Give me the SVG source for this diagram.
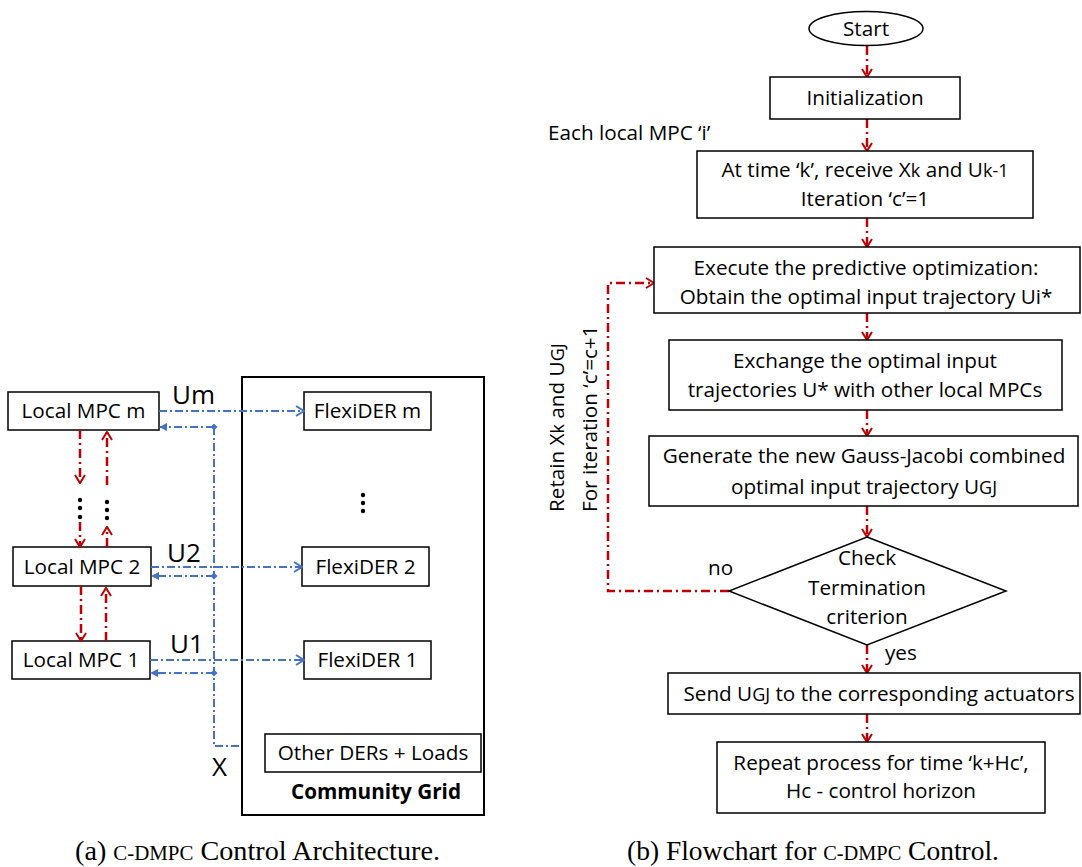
<svg xmlns="http://www.w3.org/2000/svg" width="1082" height="867" viewBox="0 0 1082 867">
<style>
text{font-family:"Open Sans","DejaVu Sans",sans-serif;font-size:20.7px;fill:#000}
.c{text-anchor:middle}
.box{fill:#fff;stroke:#000;stroke-width:1.5}
.red{fill:none;stroke:#C00000;stroke-width:2.5;stroke-dasharray:9 4 2 4}
.blue{fill:none;stroke:#4472C4;stroke-width:2;stroke-dasharray:8 3 2 3}
.big{font-size:26px}
.sub{font-size:18px}
.cap{font-family:"Liberation Serif",serif;font-size:27px}
.sc{font-size:20px}
</style>
<defs>
<marker id="ar" viewBox="0 0 10 12" refX="9" refY="6" markerWidth="10" markerHeight="12" markerUnits="userSpaceOnUse" orient="auto">
<path d="M1,1 L9,6 L1,11" fill="none" stroke="#C00000" stroke-width="2"/>
</marker>
<marker id="ab" viewBox="0 0 10 12" refX="9" refY="6" markerWidth="10" markerHeight="12" markerUnits="userSpaceOnUse" orient="auto">
<path d="M1,1 L9,6 L1,11" fill="none" stroke="#4472C4" stroke-width="2"/>
</marker>
<marker id="bf" viewBox="0 0 8 8" refX="7" refY="4" markerWidth="8" markerHeight="8" markerUnits="userSpaceOnUse" orient="auto">
<path d="M0,0 L8,4 L0,8 z" fill="#4472C4"/>
</marker>
<marker id="bd" viewBox="0 0 8 8" refX="4" refY="4" markerWidth="7" markerHeight="7" markerUnits="userSpaceOnUse" orient="auto">
<path d="M0,4 L4,0 L8,4 L4,8 z" fill="#4472C4"/>
</marker>
</defs>

<!-- Left: architecture -->
<g id="community-grid">
<rect x="242" y="377" width="242" height="438" fill="none" stroke="#000" stroke-width="2"/>
<text class="c" x="376" y="799" font-weight="bold">Community Grid</text>
</g>
<g id="mpc-m"><rect class="box" x="8" y="392" width="151" height="38"/><text class="c" x="83.5" y="418">Local MPC m</text></g>
<g id="mpc-2"><rect class="box" x="13" y="547" width="138" height="39"/><text class="c" x="82" y="573.5">Local MPC 2</text></g>
<g id="mpc-1"><rect class="box" x="12" y="641" width="138" height="38"/><text class="c" x="81" y="667">Local MPC 1</text></g>
<g id="flex-m"><rect class="box" x="304" y="392" width="127" height="38"/><text class="c" x="367.5" y="418">FlexiDER m</text></g>
<g id="flex-2"><rect class="box" x="302" y="547" width="127" height="39"/><text class="c" x="365.5" y="573.5">FlexiDER 2</text></g>
<g id="flex-1"><rect class="box" x="304" y="641" width="127" height="38"/><text class="c" x="367.5" y="667">FlexiDER 1</text></g>
<g id="other-ders"><rect class="box" x="265" y="734" width="216" height="38"/><text class="c" x="373" y="760">Other DERs + Loads</text></g>
<g id="flex-dots" fill="#000"><circle cx="363" cy="495" r="2.2"/><circle cx="363" cy="503" r="2.2"/><circle cx="363" cy="511" r="2.2"/></g>
<g id="mpc-dots" fill="#000">
<circle cx="80" cy="500" r="2.2"/><circle cx="80" cy="508" r="2.2"/><circle cx="80" cy="517" r="2.2"/>
<circle cx="107" cy="502" r="2.2"/><circle cx="107" cy="510" r="2.2"/><circle cx="107" cy="518" r="2.2"/>
</g>
<g id="left-labels">
<text class="big" x="172" y="404">Um</text>
<text class="big" x="167" y="562">U2</text>
<text class="big" x="170" y="653">U1</text>
<text class="big" x="212" y="776">X</text>
</g>

<g id="connectors">
<!-- left red -->
<path class="red" d="M80,430 V483" marker-end="url(#ar)"/>
<path class="red" d="M80,522 V547" marker-end="url(#ar)"/>
<path class="red" d="M107,485 V432" marker-end="url(#ar)"/>
<path class="red" d="M107,547 V527" marker-end="url(#ar)"/>
<path class="red" d="M81,586 V641" marker-end="url(#ar)"/>
<path class="red" d="M106,641 V588" marker-end="url(#ar)"/>
<!-- left blue -->
<path class="blue" d="M159,411 H304" marker-end="url(#ab)"/>
<path class="blue" d="M214,427 H160" marker-start="url(#bd)" marker-end="url(#bf)"/>
<path class="blue" d="M151,567 H302" marker-end="url(#ab)"/>
<path class="blue" d="M214,576 H152" marker-start="url(#bd)" marker-end="url(#bf)"/>
<path class="blue" d="M150,660 H304" marker-end="url(#ab)"/>
<path class="blue" d="M214,673 H151" marker-start="url(#bd)" marker-end="url(#bf)"/>
<path class="blue" d="M214,427 V746 H242"/>
<!-- flowchart red -->
<path class="red" d="M867,46 V77" marker-end="url(#ar)"/>
<path class="red" d="M867,119 V151" marker-end="url(#ar)"/>
<path class="red" d="M867,218 V247" marker-end="url(#ar)"/>
<path class="red" d="M867,313 V340" marker-end="url(#ar)"/>
<path class="red" d="M867,410 V436" marker-end="url(#ar)"/>
<path class="red" d="M867,506 V537" marker-end="url(#ar)"/>
<path class="red" d="M867,645 V673" marker-end="url(#ar)"/>
<path class="red" d="M867,714 V742" marker-end="url(#ar)"/>
<path class="red" d="M729,591 H608 V283 H654" marker-end="url(#ar)"/>
</g>

<!-- Right: flowchart -->
<g id="start"><ellipse cx="866" cy="28.5" rx="57" ry="17" fill="#fff" stroke="#000" stroke-width="1.5"/><text class="c" x="866" y="35.5">Start</text></g>
<g id="init"><rect class="box" x="770" y="77" width="190" height="42"/><text class="c" x="865" y="105">Initialization</text></g>
<text id="each-label" x="548" y="140">Each local MPC ‘i’</text>
<g id="receive"><rect class="box" x="697" y="151" width="336" height="67"/>
<text class="c" x="865" y="177">At time ‘k’, receive X<tspan class="sub">k</tspan> and U<tspan class="sub">k-1</tspan></text>
<text class="c" x="865" y="206">Iteration ‘c’=1</text></g>
<g id="execute"><rect class="box" x="654" y="247" width="426" height="66"/>
<text class="c" x="866" y="275">Execute the predictive optimization:</text>
<text class="c" x="866" y="304">Obtain the optimal input trajectory Ui*</text></g>
<g id="exchange"><rect class="box" x="669" y="340" width="393" height="70"/>
<text class="c" x="865" y="368">Exchange the optimal input</text>
<text class="c" x="865" y="397">trajectories U* with other local MPCs</text></g>
<g id="generate"><rect class="box" x="649" y="436" width="429" height="70"/>
<text class="c" x="864" y="463">Generate the new Gauss-Jacobi combined</text>
<text class="c" x="864" y="494">optimal input trajectory U<tspan class="sub">GJ</tspan></text></g>
<g id="check"><path d="M867,537 L1006,591 L867,645 L729,591 Z" fill="#fff" stroke="#000" stroke-width="1.5"/>
<text class="c" x="867" y="565">Check</text>
<text class="c" x="867" y="595">Termination</text>
<text class="c" x="867" y="624">criterion</text></g>
<g id="loop-labels">
<text x="708" y="575">no</text>
<text x="885" y="660">yes</text>
<text transform="translate(564,512) rotate(-90)">Retain X<tspan class="sub">k</tspan> and U<tspan class="sub">GJ</tspan></text>
<text transform="translate(597,512) rotate(-90)">For iteration ‘c’=c+1</text>
</g>
<g id="send"><rect class="box" x="668" y="673" width="412" height="41"/>
<text class="c" x="879" y="701">Send U<tspan class="sub">GJ</tspan> to the corresponding actuators</text></g>
<g id="repeat"><rect class="box" x="717" y="742" width="328" height="71"/>
<text class="c" x="881" y="770">Repeat process for time ‘k+Hc’,</text>
<text class="c" x="881" y="798">Hc - control horizon</text></g>

<g id="captions">
<text class="cap" x="75" y="860" textLength="365" lengthAdjust="spacingAndGlyphs">(a) <tspan class="sc">C-DMPC</tspan> Control Architecture.</text>
<text class="cap" x="627" y="860" textLength="372" lengthAdjust="spacingAndGlyphs">(b) Flowchart for <tspan class="sc">C-DMPC</tspan> Control.</text>
</g>
</svg>
